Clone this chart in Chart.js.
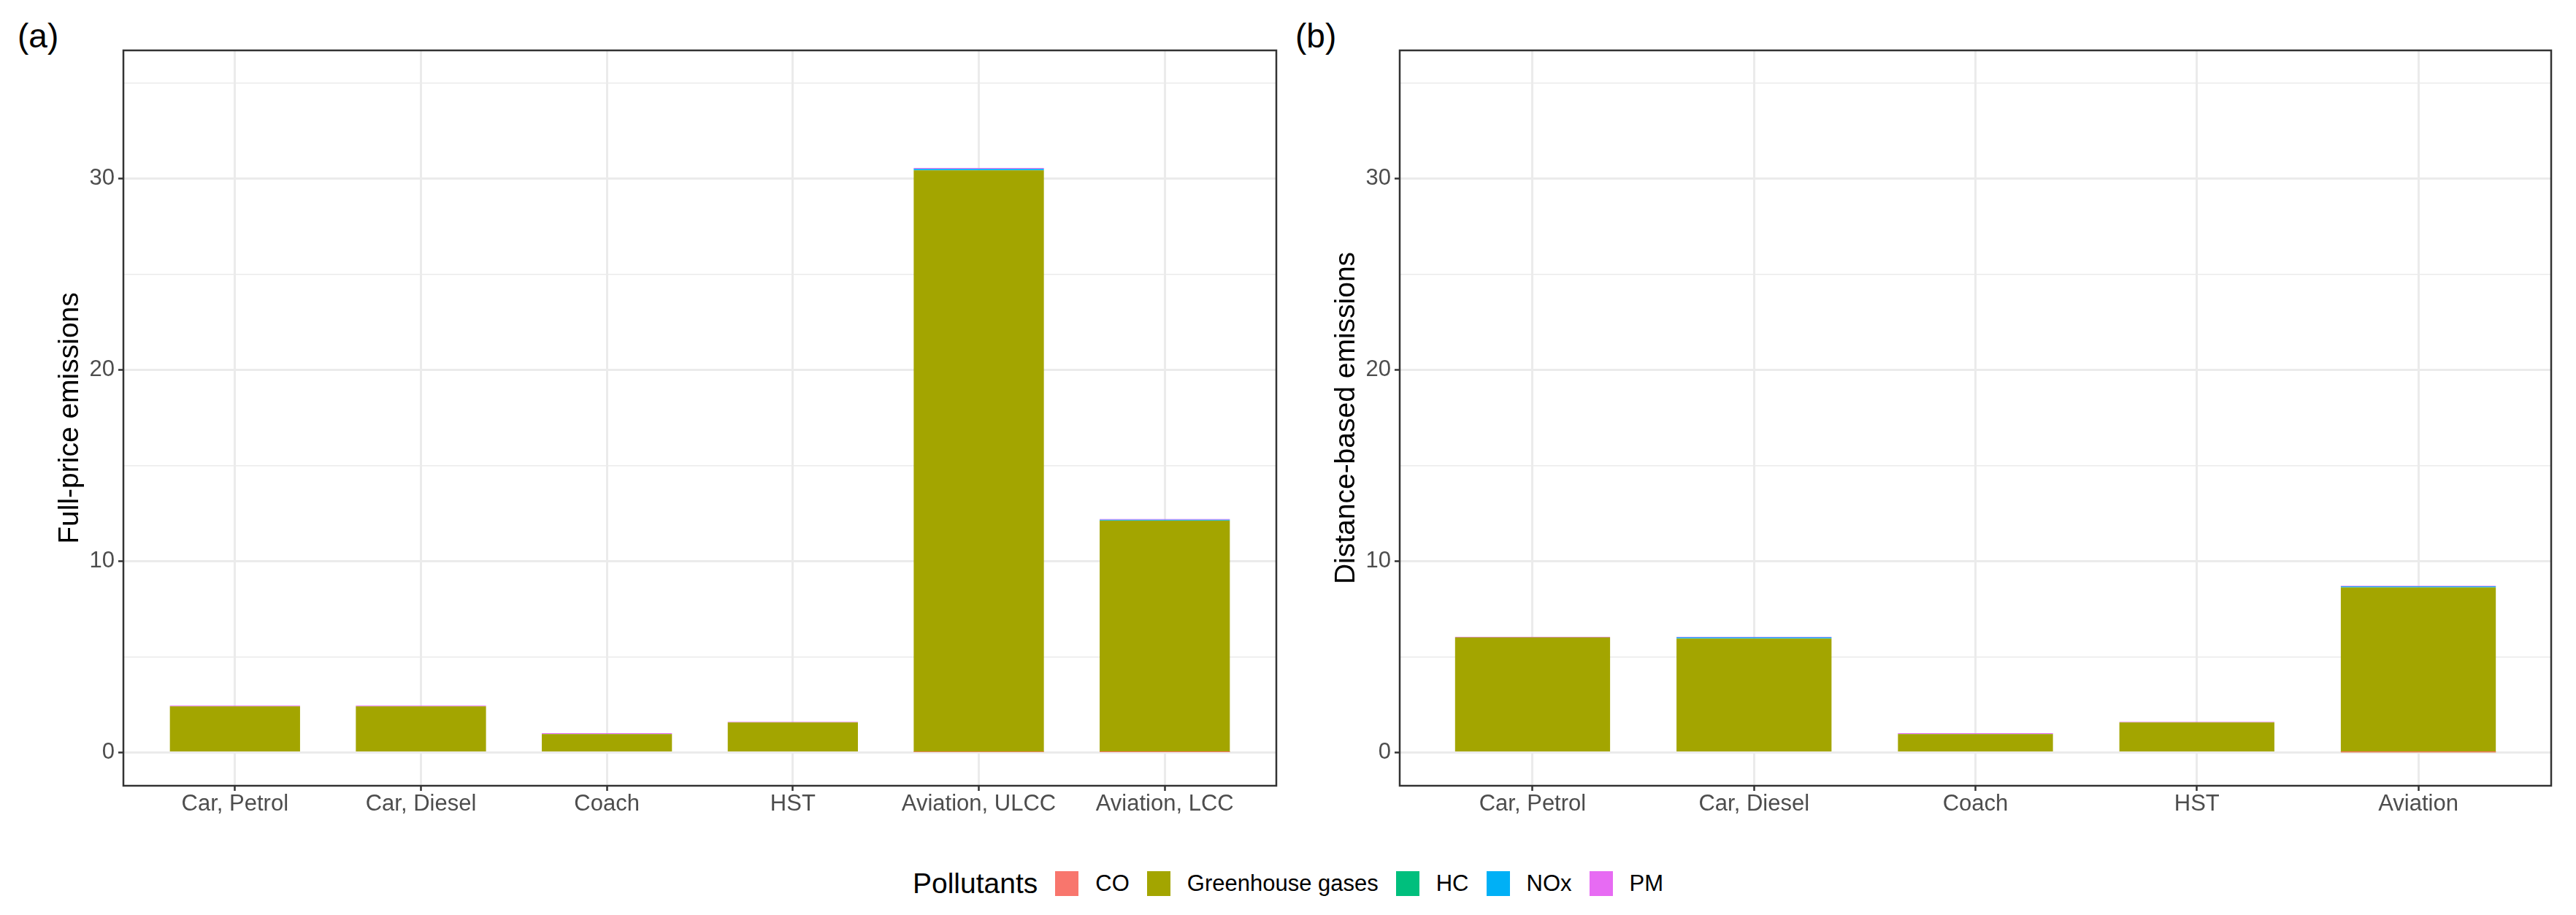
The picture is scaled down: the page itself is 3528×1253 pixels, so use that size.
<!DOCTYPE html>
<html>
<head>
<meta charset="utf-8">
<script src="https://cdn.jsdelivr.net/npm/chart.js@4.4.0/dist/chart.umd.min.js"></script>
<style>
body{margin:0;background:#fff;width:3528px;height:1253px;overflow:hidden;position:relative;font-family:"Liberation Sans",Arial,sans-serif}
.panel{position:absolute;top:0;height:1150px}
#wrapA{left:0;width:1800px}
#wrapB{left:1760px;width:1768px}
.tag{position:absolute;top:26px;font-size:46px;line-height:46px;color:#000}
#legend{position:absolute;top:1193px;left:0;width:3528px;height:34px;display:flex;justify-content:center;align-items:center;color:#000}
#legend .ttl{font-size:39px;margin-right:24px}
#legend .key{width:32px;height:34px;margin-right:23px}
#legend .lab{font-size:31px;margin-right:24px}
#legend .lab:last-child{margin-right:0}
</style>
</head>
<body>
<div class="tag" style="left:24px">(a)</div>
<div class="tag" style="left:1774px">(b)</div>
<div class="panel" id="wrapA"><canvas class="js-chartA"></canvas></div>
<div class="panel" id="wrapB"><canvas class="js-chartB"></canvas></div>
<div id="legend"></div>
<script>
const pollutants = ['CO', 'Greenhouse gases', 'HC', 'NOx', 'PM'];
const colours = ['#F8766D', '#A3A500', '#00BF7D', '#00B0F6', '#E76BF3'];

// panel (a): full-price emissions
const categoriesA = ['Car, Petrol', 'Car, Diesel', 'Coach', 'HST', 'Aviation, ULCC', 'Aviation, LCC'];
const coA  = [0, 0, 0, 0, 0.03, 0.02];
const ghgA = [2.41, 2.41, 0.96, 1.57, 30.42, 12.10];
const hcA  = [0, 0, 0, 0, 0.01, 0.01];
const noxA = [0, 0, 0.01, 0, 0.06, 0.04];
const pmA  = [0.04, 0.04, 0.04, 0.03, 0.05, 0.04];

// panel (b): distance-based emissions
const categoriesB = ['Car, Petrol', 'Car, Diesel', 'Coach', 'HST', 'Aviation'];
const coB  = [0, 0, 0, 0, 0.01];
const ghgB = [6.02, 5.96, 0.96, 1.57, 8.62];
const hcB  = [0, 0.01, 0, 0, 0.01];
const noxB = [0, 0.05, 0.01, 0, 0.05];
const pmB  = [0.03, 0.03, 0.04, 0.03, 0.03];

const yMajor = [0, 10, 20, 30];
const yMinor = [5, 15, 25, 35];
const yMin = -1.74;
const yMax = 36.72;

Chart.defaults.font.family = '"Liberation Sans", Arial, sans-serif';

const panelBorder = {
    id: 'panelBorder',
    afterDraw(chart) {
        const a = chart.chartArea;
        const ctx = chart.ctx;
        ctx.save();
        ctx.strokeStyle = '#333333';
        ctx.lineWidth = 2.5;
        ctx.strokeRect(a.left, a.top, a.right - a.left, a.bottom - a.top);
        ctx.restore();
    }
};

const makeChart = function(canvas, categories, series, title, yWidth, titlePad, padRight){
    const datasets = series.map((vals, k) => ({
        label: pollutants[k],
        data: vals.map((v, i) => ({x: i + 1, y: v})),
        backgroundColor: colours[k],
        borderWidth: 0,
        barPercentage: 0.7,
        categoryPercentage: 1
    }));
    const isMajor = v => yMajor.includes(v);
    const config = {
        type: 'bar',
        data: {datasets: datasets},
        options: {
            responsive: true,
            maintainAspectRatio: false,
            devicePixelRatio: 1,
            animation: false,
            layout: {padding: {left: 0, top: 69, right: padRight, bottom: 0}},
            plugins: {legend: {display: false}, tooltip: {enabled: false}},
            scales: {
                x: {
                    type: 'linear',
                    stacked: true,
                    offset: false,
                    min: 0.4,
                    max: categories.length + 0.6,
                    afterBuildTicks: s => { s.ticks = categories.map((c, i) => ({value: i + 1})); },
                    afterFit: s => { s.height = 74; },
                    border: {display: false},
                    grid: {offset: false, color: '#EBEBEB', lineWidth: 3, tickColor: '#333333', tickLength: 7, tickWidth: 2.5},
                    ticks: {
                        autoSkip: false, maxRotation: 0, padding: 0,
                        color: '#4D4D4D', font: {size: 31},
                        callback: v => categories[v - 1]
                    }
                },
                y: {
                    stacked: true,
                    min: yMin,
                    max: yMax,
                    afterBuildTicks: s => { s.ticks = yMajor.concat(yMinor).sort((a, b) => a - b).map(v => ({value: v})); },
                    afterFit: s => { s.width = yWidth; },
                    border: {display: false},
                    grid: {
                        color: '#EBEBEB',
                        lineWidth: c => isMajor(c.tick.value) ? 3 : 1.5,
                        tickColor: c => isMajor(c.tick.value) ? '#333333' : 'rgba(0,0,0,0)',
                        tickLength: 7,
                        tickWidth: 2.5
                    },
                    ticks: {
                        padding: 5, color: '#4D4D4D', font: {size: 31},
                        callback: v => isMajor(v) ? String(v) : ''
                    },
                    title: {display: true, text: title, color: '#000', font: {size: 39}, padding: {top: titlePad, bottom: 0}}
                }
            }
        },
        plugins: [panelBorder]
    };
    return new Chart(canvas, config);
};

const initLegend = function(){
    const legend = document.querySelector('#legend');
    let html = '<span class="ttl">Pollutants</span>';
    pollutants.forEach((p, k) => {
        html += `<span class="key" style="background:${colours[k]}"></span><span class="lab">${p}</span>`;
    });
    legend.innerHTML = html;
};

document.addEventListener('DOMContentLoaded', function () {
    makeChart(document.querySelector('.js-chartA'), categoriesA, [coA, ghgA, hcA, noxA, pmA], 'Full-price emissions', 169, 73, 52);
    makeChart(document.querySelector('.js-chartB'), categoriesB, [coB, ghgB, hcB, noxB, pmB], 'Distance-based emissions', 157, 61, 34);
    initLegend();
});
</script>
</body>
</html>
